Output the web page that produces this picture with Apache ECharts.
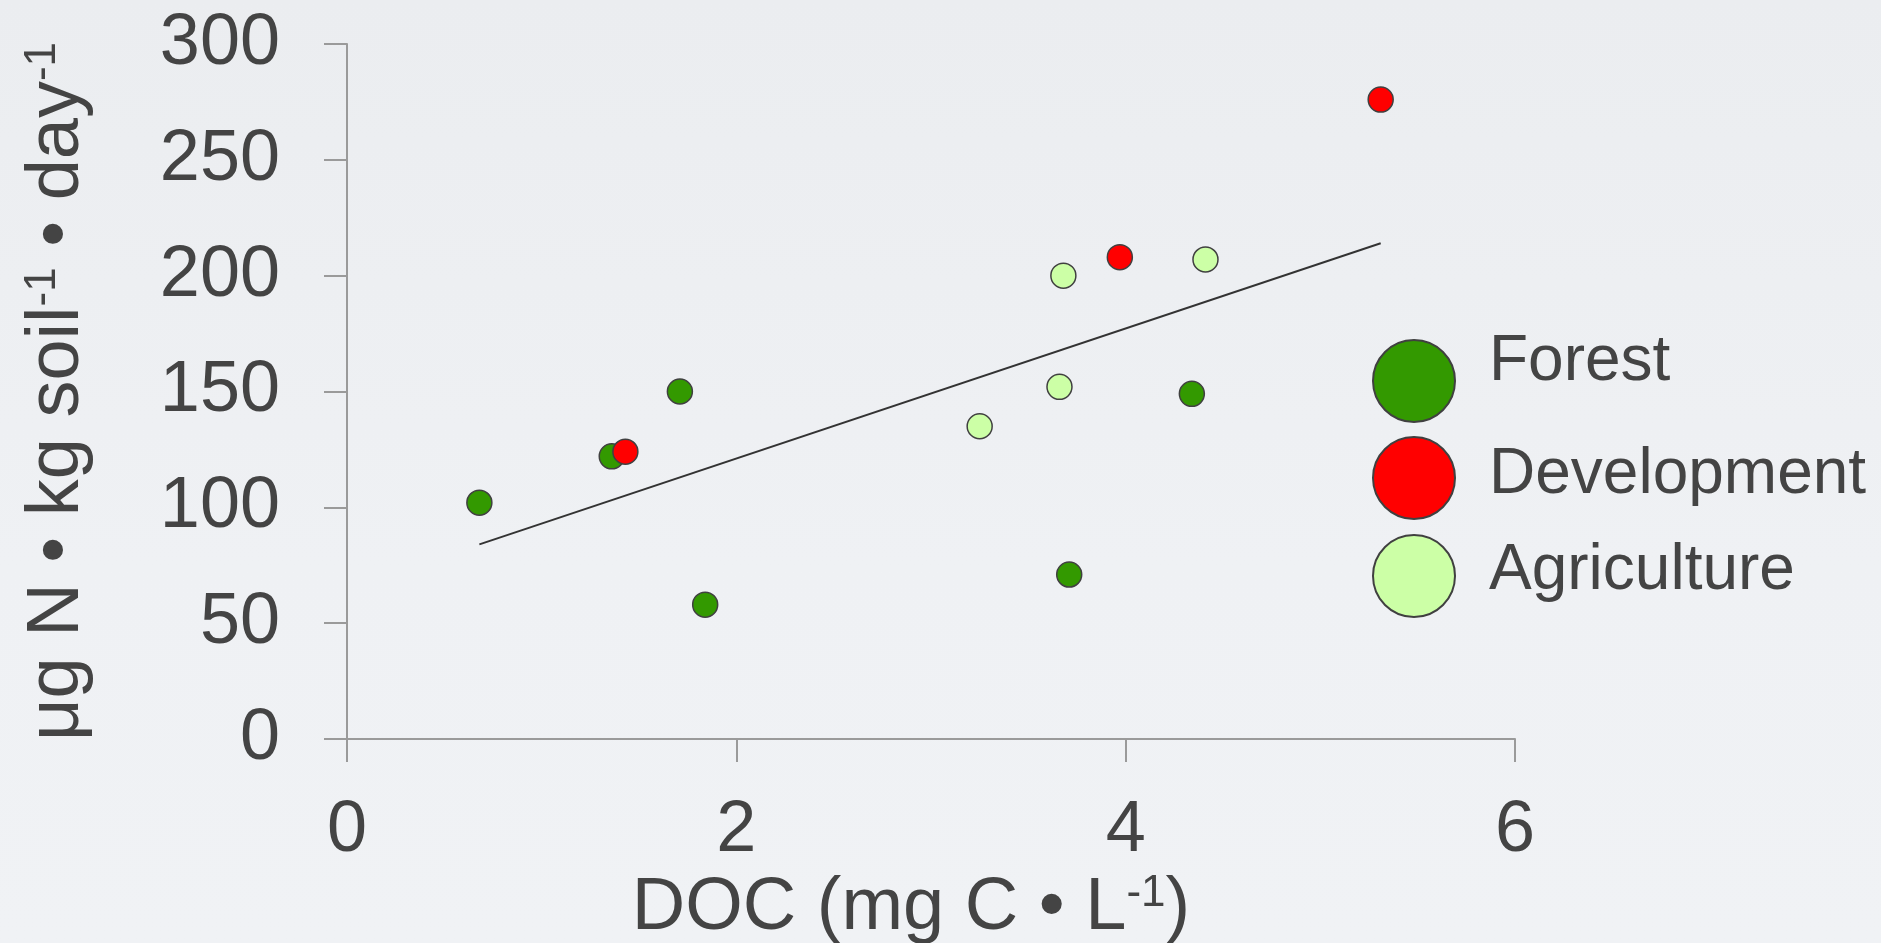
<!DOCTYPE html>
<html>
<head>
<meta charset="utf-8">
<script src="https://cdn.jsdelivr.net/npm/echarts@6/dist/echarts.min.js"></script>
<style>
html,body{margin:0;padding:0;width:1881px;height:943px;overflow:hidden;background:linear-gradient(180deg,#ebedf0 0%,#eff1f4 60%,#f0f2f5 100%);}
#chart{width:1881px;height:943px;}
</style>
</head>
<body>
<div id="chart"></div>
<script>
// Data
const seriesNames = ['Forest', 'Development', 'Agriculture'];
const forestData = [[0.68, 102], [1.36, 122], [1.71, 150], [1.84, 58], [3.71, 71], [4.34, 149]];
const developmentData = [[1.43, 124], [3.97, 208], [5.31, 276]];
const agricultureData = [[3.25, 135], [3.66, 152], [3.68, 200], [4.41, 207]];
const trendData = [[0.68, 84], [5.31, 214]];
const xTicks = [0, 2, 4, 6];
const yTicks = [0, 50, 100, 150, 200, 250, 300];

const colors = { Forest: '#339900', Development: '#ff0000', Agriculture: '#ccffa6' };
const textColor = '#444444';
const font = '"Liberation Sans", Arial, Helvetica, sans-serif';

const chart = echarts.init(document.getElementById('chart'), null, { renderer: 'canvas' });

function scatter(name, data) {
  return {
    name: name,
    type: 'scatter',
    data: data,
    symbol: 'circle',
    symbolSize: 25,
    z: 3,
    itemStyle: { color: colors[name], borderColor: '#404040', borderWidth: 1.5, opacity: 1 }
  };
}

// one legend block per entry so each row can sit exactly
const legendTops = { Forest: 330, Development: 436, Agriculture: 534 };
const legendPad = { Forest: [0, 0, 38, 29], Development: [0, 0, 6, 29], Agriculture: [0, 0, 10, 29] };
const legendLH = { Forest: 44, Development: 68, Agriculture: 68 };

function legendFor(name) {
  const rich = {};
  rich.t = { fontSize: 64, color: textColor, fontFamily: font, lineHeight: legendLH[name], padding: legendPad[name] };
  return {
    data: [name],
    orient: 'vertical',
    left: 1372,
    top: legendTops[name],
    padding: 0,
    itemWidth: 82,
    itemHeight: 82,
    icon: 'circle',
    itemStyle: { borderColor: '#404040', borderWidth: 2 },
    formatter: function (n) { return '{t|' + n + '}'; },
    textStyle: { fontSize: 64, color: textColor, fontFamily: font, rich: rich }
  };
}

const option = {
  backgroundColor: 'transparent',
  animation: false,
  textStyle: { fontFamily: font, color: textColor },
  grid: { left: 347, right: 366, top: 44, bottom: 204, containLabel: false, outerBoundsMode: 'none' },
  legend: seriesNames.map(legendFor),
  xAxis: {
    type: 'value',
    min: xTicks[0],
    max: xTicks[xTicks.length - 1],
    interval: 2,
    splitLine: { show: false },
    axisLine: { show: true, lineStyle: { color: '#9a9a9a', width: 2 } },
    axisTick: { show: true, length: 23, lineStyle: { color: '#9a9a9a', width: 2 } },
    axisLabel: { fontSize: 72, color: textColor, fontFamily: font, margin: 56 },
    name: 'DOC (mg C • L{sup|-1})',
    nameLocation: 'middle',
    nameGap: 126,
    nameTextStyle: {
      fontSize: 74, color: textColor, fontFamily: font, padding: [0, 40, 0, 0],
      rich: { sup: { fontSize: 44, color: textColor, fontFamily: font, verticalAlign: 'top' } }
    }
  },
  yAxis: {
    type: 'value',
    min: yTicks[0],
    max: yTicks[yTicks.length - 1],
    interval: 50,
    splitLine: { show: false },
    axisLine: { show: true, lineStyle: { color: '#9a9a9a', width: 2 } },
    axisTick: { show: true, length: 23, lineStyle: { color: '#9a9a9a', width: 2 } },
    axisLabel: { fontSize: 72, color: textColor, fontFamily: font, margin: 67 },
    name: 'μg N • kg soil{sup|-1} • day{sup|-1}',
    nameLocation: 'middle',
    nameRotate: 90,
    nameGap: 252,
    nameTextStyle: {
      fontSize: 74, color: textColor, fontFamily: font,
      rich: { sup: { fontSize: 44, color: textColor, fontFamily: font, verticalAlign: 'top' } }
    }
  },
  series: [
    {
      name: 'trend',
      type: 'line',
      data: trendData,
      symbol: 'none',
      z: 2,
      lineStyle: { color: '#333333', width: 2 }
    },
    scatter('Forest', forestData),
    scatter('Development', developmentData),
    scatter('Agriculture', agricultureData)
  ]
};

chart.setOption(option);
</script>
</body>
</html>
